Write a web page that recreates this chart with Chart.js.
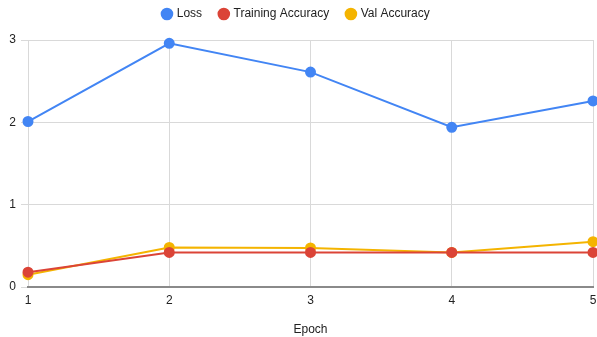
<!DOCTYPE html>
<html>
<head>
<meta charset="utf-8">
<script src="https://cdn.jsdelivr.net/npm/chart.js@4/dist/chart.umd.min.js"></script>
<style>
  html, body { margin: 0; padding: 0; background: #fff; }
  #wrap { width: 597px; height: 337px; position: relative; }
</style>
</head>
<body>
<div id="wrap"><canvas id="c"></canvas></div>
<script>
// Per-epoch training metrics
const epochs = ['1', '2', '3', '4', '5'];
const loss = [2.01, 2.96, 2.61, 1.94, 2.26];
const trainingAccuracy = [0.18, 0.42, 0.42, 0.42, 0.42];
const valAccuracy = [0.15, 0.48, 0.475, 0.42, 0.55];
const yTicks = [0, 1, 2, 3];

const FONT = '"Liberation Sans", Arial, sans-serif';
const GRID = '#d9d9d9';

function series(label, data, color) {
  return {
    label, data,
    borderColor: color,
    backgroundColor: color,
    pointBackgroundColor: color,
    pointBorderColor: color,
    pointStyle: 'circle',
    pointRadius: 4.5,
    pointHoverRadius: 4.5,
    borderWidth: 2,
    tension: 0,
    clip: false
  };
}

// Reserve a fixed-height band for the legend above the plot
const legendBand = {
  id: 'legendBand',
  beforeUpdate(chart) {
    const lg = chart.legend;
    if (lg && !lg.__banded) {
      const fit = lg.fit.bind(lg);
      lg.fit = function () { fit(); this.height = 50; };
      lg.__banded = true;
    }
  }
};

new Chart(document.getElementById('c'), {
  type: 'line',
  plugins: [legendBand],
  data: {
    labels: epochs,
    datasets: [
      series('Loss', loss, '#4285f4'),
      series('Training Accuracy', trainingAccuracy, '#db4437'),
      series('Val Accuracy', valAccuracy, '#f4b400')
    ]
  },
  options: {
    responsive: true,
    maintainAspectRatio: false,
    animation: false,
    layout: { autoPadding: false, padding: { left: 0, right: 4, top: -10, bottom: 0 } },
    plugins: {
      tooltip: { enabled: false },
      legend: {
        position: 'top',
        align: 'center',
        labels: {
          usePointStyle: true,
          pointStyle: 'circle',
          boxWidth: 7.5,
          boxHeight: 7.5,
          padding: 18,
          color: '#222',
          font: { family: FONT, size: 12 }
        }
      }
    },
    scales: {
      x: {
        type: 'category',
        offset: false,
        grid: { color: GRID, drawTicks: false, lineWidth: 1 },
        border: { display: true, color: '#8a8a8a', width: 2 },
        ticks: { color: '#222', padding: 6, font: { family: FONT, size: 12 } },
        title: {
          display: true,
          text: 'Epoch',
          color: '#222',
          font: { family: FONT, size: 12 },
          padding: { top: 14, bottom: 0 }
        },
        afterFit(scale) {
          scale.height = 50;
          scale.paddingLeft = 0;
          scale.paddingRight = 0;
        }
      },
      y: {
        min: 0,
        max: 3,
        afterBuildTicks(scale) { scale.ticks = yTicks.map(v => ({ value: v })); },
        grid: { color: GRID, drawTicks: true, tickLength: 7, lineWidth: 1 },
        border: { display: false },
        ticks: { color: '#222', padding: 5, font: { family: FONT, size: 12 } },
        afterFit(scale) {
          scale.width = 28;
          scale.paddingTop = 0;
          scale.paddingBottom = 0;
        }
      }
    }
  }
});
</script>
</body>
</html>
